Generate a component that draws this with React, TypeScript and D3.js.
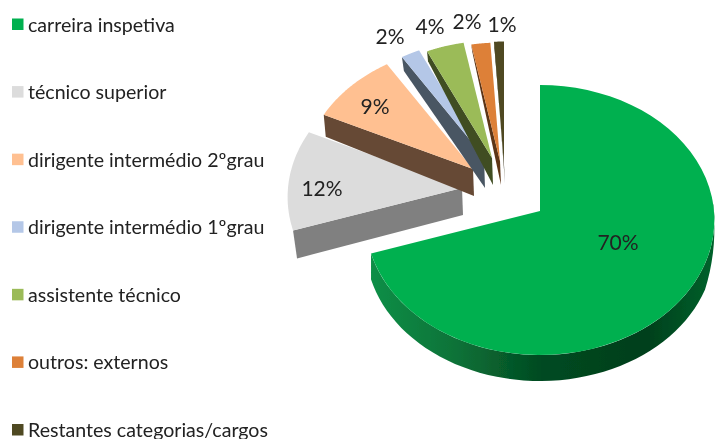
import React from "react";
import * as d3 from "d3";

const categories = ["carreira inspetiva","técnico superior","dirigente intermédio 2ºgrau","dirigente intermédio 1ºgrau","assistente técnico","outros: externos","Restantes categorias/cargos"];
const values = [70, 12, 9, 2, 4, 2, 1];
const topColors = ["#00B050","#DCDCDC","#FFC091","#B4C7E7","#9BBB59","#DD8038","#4F4A24"];
const sideColors = ["url(#gw)","#808080","#664A35","#4A5663","#3F4D23","#5D3416","#1F1D0E"];

// layout constants for the exploded 3D look
const W = 715, H = 439;
const CX = 540, CY = 211, RX = 174, RY = 134.4, K = 0.0667;
const explodeX = [0,-78,-67,-56,-48,-40,-36];
const explodeY = [0,-23,-42,-54,-53,-50,-46];
const radiusScale = [1,1.0,0.975,0.93,0.93,0.94,0.98];
const depthApex = [26,27,27,31,27,24,18];
const depthOuter = [26,28,22,14,10,7,6];
const shiftOuter = [0,4,2,2,1,1,1];
const labelX = [618,322,375,390,430,467,502];
const labelY = [241,187,105,35,25,20,23];
const legendY = d3.scaleLinear().domain([0,6]).range([24,429.5]);

const pie = d3.pie<number>().sort(null).startAngle(0).endAngle(2*Math.PI);
const arcs = pie(values);
const lineGen = d3.line().curve(d3.curveLinearClosed);

function proj(a:number, i:number):[number,number]{
  const u = -Math.cos(a), v = Math.sin(a), den = 1 - K*u, s = radiusScale[i];
  return [CX + explodeX[i] + s*RX*v/den, CY + explodeY[i] + s*RY*u/den];
}
function arcPts(a0:number,a1:number,i:number){
  return d3.range(0,61).map(n=>proj(a0+(a1-a0)*n/60,i));
}
function topPath(i:number){
  const {startAngle:a0,endAngle:a1}=arcs[i];
  const apex:[number,number]=[CX+explodeX[i],CY+explodeY[i]];
  return lineGen([apex,...arcPts(a0,a1,i)]) as string;
}
function sidePath(i:number){
  const a0=arcs[i].startAngle;
  const apex:[number,number]=[CX+explodeX[i],CY+explodeY[i]];
  const o=proj(a0,i);
  return lineGen([apex,o,[o[0]+shiftOuter[i],o[1]+depthOuter[i]],[apex[0]+1,apex[1]+depthApex[i]]]) as string;
}
function wallPath(){
  const i=0,a0=Math.PI*0.47,a1=arcs[0].endAngle;
  const p=arcPts(a0,a1,i);
  const q=p.slice().reverse().map(([x,y],n)=>{
    const t=(p.length-1-n)/(p.length-1);
    return [x,y+Math.min(1,t*6)*depthOuter[0]] as [number,number];
  });
  return lineGen([...p,...q]) as string;
}

export default function App(){
  return (
    <svg width={W} height={H} viewBox={`0 0 ${W} ${H}`} style={{position:"absolute",left:0,top:0,background:"#fff"}} fontFamily="Lato, 'Noto Sans', sans-serif">
      <defs>
        <linearGradient id="gw" gradientUnits="userSpaceOnUse" x1={370} x2={714} y1={0} y2={0}>
          <stop offset="0" stopColor="#0E8F47"/>
          <stop offset="0.25" stopColor="#0B7238"/>
          <stop offset="0.5" stopColor="#034A21"/>
          <stop offset="0.8" stopColor="#033F1C"/>
          <stop offset="1" stopColor="#03612B"/>
        </linearGradient>
        <filter id="soft" x="-5%" y="-5%" width="110%" height="110%"><feGaussianBlur stdDeviation="0.5"/></filter>
      </defs>
      <g filter="url(#soft)">
        <path d={wallPath()} fill={sideColors[0]}/>
        {values.map((_,i)=>i===0?null:(
          <g key={i}>
            <path d={sidePath(i)} fill={sideColors[i]}/>
            <path d={topPath(i)} fill={topColors[i]}/>
          </g>
        ))}
        <path d={topPath(0)} fill={topColors[0]}/>
        {values.map((v,i)=>(
          <text key={i} x={labelX[i]} y={labelY[i]} textAnchor="middle" dominantBaseline="central" fontSize={21} fill="#222">{v}%</text>
        ))}
        {categories.map((c,i)=>(
          <g key={c}>
            <rect x={12} y={legendY(i)-5.5} width={11.5} height={11.5} fill={topColors[i]}/>
            <text x={28} y={legendY(i)} dominantBaseline="central" fontSize={19.6} fill="#222">{c}</text>
          </g>
        ))}
      </g>
    </svg>
  );
}
